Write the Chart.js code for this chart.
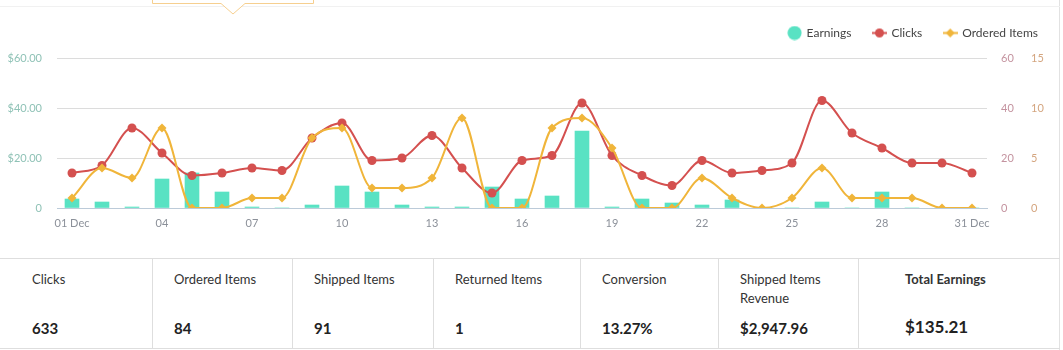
<!DOCTYPE html>
<html lang="en">
<head>
<meta charset="UTF-8">
<title>Earnings report - December</title>
<script src="https://cdn.jsdelivr.net/npm/chart.js"></script>
<style>
  body { margin: 0; background: #fff; font-family: Lato, "Noto Sans", sans-serif; }
  .card { position: relative; width: 1060px; height: 350px; border-right: 1px solid #e2e2e2; box-sizing: border-box; }
  .card .topline { position: absolute; left: 0; top: 6px; width: 1060px; border-top: 1px solid #f1f1f1; }
  .tip { position: absolute; left: 0; top: 0; }
  #chartBox { position: absolute; left: 0; top: 0; width: 1060px; height: 250px; }
  .stats { position: absolute; left: 0; top: 258px; width: 1060px; height: 91px; display: flex;
           border-top: 1px solid #dedede; border-bottom: 1px solid #dedede; box-sizing: border-box; }
  .stats .cell { border-left: 1px solid #dedede; padding: 11px 0 0 21px; box-sizing: border-box; position: relative; color: #333; }
  .stats .cell:first-child { border-left: none; padding-left: 32px; }
  .stats .lbl { font-size: 13px; line-height: 19px; }
  .stats .val { position: absolute; top: 60px; font-size: 15px; font-weight: bold; color: #222; }
  .stats .total { padding-left: 46px; }
  .stats .total .lbl { font-weight: bold; }
  .stats .total .val { font-size: 17px; top: 57px; }
</style>
</head>
<body>
<div class="card">
  <div class="topline"></div>
  <div id="chartBox"><canvas id="myChart"></canvas></div>
  <svg class="tip" width="330" height="20">
    <path d="M152.5,-2 L152.5,3.5 L221,3.5 L233,14 L245,3.5 L313.5,3.5 L313.5,-2" fill="#fff" stroke="#f6cf8f" stroke-width="1"/>
  </svg>
  <div class="stats" id="stats"></div>
</div>

<script>
// days of the month
const dias = ['01 Dec','02','03','04','05','06','07','08','09','10','11','12','13','14','15','16',
              '17','18','19','20','21','22','23','24','25','26','27','28','29','30','31 Dec'];

// earnings per day ($)
const earnings = [3.6, 2.4, 0.4, 11.6, 14.0, 6.4, 0.4, 0, 1.2, 8.8, 6.4, 1.2, 0.4, 0.4, 8.4, 3.6,
                  4.8, 30.8, 0.4, 3.6, 2.0, 1.2, 3.2, 0, 0, 2.4, 0, 6.4, 0, 0, 0];

// clicks per day
const clicks = [14, 17, 32, 22, 13, 14, 16, 15, 28, 34, 19, 20, 29, 16, 6, 19,
                21, 42, 21, 13, 9, 19, 14, 15, 18, 43, 30, 24, 18, 18, 14];

// ordered items per day
const ordered = [1, 4, 3, 8, 0, 0, 1, 1, 7, 8, 2, 2, 3, 9, 0, 0,
                 8, 9, 6, 0, 0, 3, 1, 0, 1, 4, 1, 1, 1, 0, 0];

// summary row under the chart
const resumenTitulos = ['Clicks', 'Ordered Items', 'Shipped Items', 'Returned Items', 'Conversion', 'Shipped Items<br>Revenue', 'Total Earnings'];
const resumenValores = ['633', '84', '91', '1', '13.27%', '$2,947.96', '$135.21'];
const anchos = [152, 140, 141, 147, 138, 140, 201];

const colorEarn = '#59e2c3';
const colorClicks = '#d4504f';
const colorOrder = '#f0b53a';

// legend icons: line + marker
function icono(tipo, color) {
  const c = document.createElement('canvas');
  const ctx = c.getContext('2d');
  if (tipo === 'dot') {
    c.width = 15; c.height = 15;
    ctx.fillStyle = color;
    ctx.beginPath(); ctx.arc(7.5, 7.5, 7, 0, Math.PI * 2); ctx.fill();
    return c;
  }
  c.width = 15; c.height = 11;
  ctx.strokeStyle = color; ctx.fillStyle = color; ctx.lineWidth = 2;
  ctx.beginPath(); ctx.moveTo(0, 5.5); ctx.lineTo(15, 5.5); ctx.stroke();
  ctx.beginPath();
  if (tipo === 'circle') {
    ctx.arc(7.5, 5.5, 4.5, 0, Math.PI * 2);
  } else {
    ctx.moveTo(7.5, 1); ctx.lineTo(12, 5.5); ctx.lineTo(7.5, 10); ctx.lineTo(3, 5.5); ctx.closePath();
  }
  ctx.fill();
  return c;
}
const iconos = [icono('dot', colorEarn), icono('circle', colorClicks), icono('diamond', colorOrder)];

// pushes the plot down a little under the legend
const legendMargin = {
  id: 'legendMargin',
  beforeInit(chart) {
    const fit = chart.legend.fit;
    chart.legend.fit = function () {
      fit.bind(chart.legend)();
      this.height += 9;
    };
  }
};

const fuente = { family: 'Lato, "Noto Sans", sans-serif', size: 11 };

const ctx = document.getElementById('myChart').getContext('2d');
const chart = new Chart(ctx, {
  type: 'bar',
  data: {
    labels: dias,
    datasets: [
      {
        label: 'Earnings',
        data: earnings,
        backgroundColor: colorEarn,
        barThickness: 14,
        yAxisID: 'y',
        order: 3
      },
      {
        type: 'line',
        label: 'Clicks',
        data: clicks,
        borderColor: colorClicks,
        backgroundColor: colorClicks,
        borderWidth: 2,
        pointStyle: 'circle',
        pointRadius: 4.5,
        pointBorderWidth: 0,
        cubicInterpolationMode: 'monotone',
        yAxisID: 'y1',
        order: 2
      },
      {
        type: 'line',
        label: 'Ordered Items',
        data: ordered,
        borderColor: colorOrder,
        backgroundColor: colorOrder,
        borderWidth: 2,
        pointStyle: 'rectRot',
        pointRadius: 4.5,
        pointBorderWidth: 0,
        cubicInterpolationMode: 'monotone',
        yAxisID: 'y2',
        order: 1
      }
    ]
  },
  options: {
    responsive: true,
    maintainAspectRatio: false,
    animation: false,
    layout: { padding: { top: 5, right: 0, bottom: 0, left: 0 } },
    plugins: {
      tooltip: { enabled: false },
      legend: {
        position: 'top',
        align: 'end',
        labels: {
          usePointStyle: true,
          pointStyleWidth: 12,
          padding: 22,
          color: '#444',
          font: { family: 'Lato, "Noto Sans", sans-serif', size: 12 },
          sort: (a, b) => a.datasetIndex - b.datasetIndex,
          generateLabels(chart) {
            const items = Chart.defaults.plugins.legend.labels.generateLabels(chart);
            items.forEach(it => { it.pointStyle = iconos[it.datasetIndex]; });
            return items;
          }
        }
      }
    },
    scales: {
      x: {
        grid: { display: false, drawTicks: false },
        border: { display: true, color: '#bccbd9' },
        ticks: {
          autoSkip: false,
          maxRotation: 0,
          padding: 9,
          color: '#8b9099',
          font: fuente,
          callback(v, i) { return i % 3 === 0 ? dias[i] : ''; }
        },
        afterFit(scale) { scale.height = 42; }
      },
      y: {
        position: 'left',
        min: 0, max: 60,
        grid: { color: '#dcdcdc', drawTicks: false },
        border: { display: false },
        ticks: {
          stepSize: 20,
          padding: 15,
          color: '#8fc2b6',
          font: fuente,
          callback(v) { return v === 0 ? '0' : '$' + v.toFixed(2); }
        },
        afterFit(scale) { scale.width = 57; }
      },
      y1: {
        position: 'right',
        min: 0, max: 60,
        grid: { display: false, drawTicks: false },
        border: { display: false },
        ticks: { stepSize: 20, padding: 14, color: '#c4939f', font: fuente },
        afterFit(scale) { scale.width = 33; }
      },
      y2: {
        position: 'right',
        min: 0, max: 15,
        grid: { display: false, drawTicks: false },
        border: { display: false },
        ticks: { stepSize: 5, padding: 11, color: '#d4a57f', font: fuente },
        afterFit(scale) { scale.width = 40; }
      }
    }
  },
  plugins: [legendMargin]
});

// summary cells
const stats = document.getElementById('stats');
resumenTitulos.forEach((t, i) => {
  const cell = document.createElement('div');
  cell.className = 'cell' + (i === resumenTitulos.length - 1 ? ' total' : '');
  cell.style.width = anchos[i] + 'px';
  cell.innerHTML = '<div class="lbl">' + t + '</div><div class="val">' + resumenValores[i] + '</div>';
  stats.appendChild(cell);
});
</script>
</body>
</html>
